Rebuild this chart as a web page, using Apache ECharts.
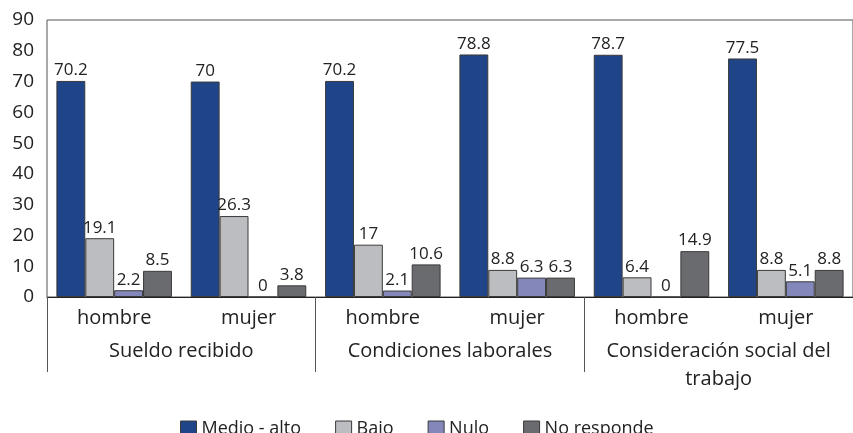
<!DOCTYPE html>
<html>
<head>
<meta charset="utf-8">
<script src="https://cdn.jsdelivr.net/npm/echarts@6/dist/echarts.min.js"></script>
<style>
html, body { margin: 0; padding: 0; background: #fff; }
#chart { width: 853px; height: 433px; }
</style>
</head>
<body>
<div id="chart"></div>
<script>
// categorias
var sexos = ['hombre', 'mujer', 'hombre', 'mujer', 'hombre', 'mujer'];
var temas = ['Sueldo recibido', 'Condiciones laborales', 'Consideración social del\ntrabajo'];
var yTicks = [0, 90, 10];

// valores por serie
var medioAlto = [70.2, 70, 70.2, 78.8, 78.7, 77.5];
var bajo = [19.1, 26.3, 17, 8.8, 6.4, 8.8];
var nulo = [2.2, 0, 2.1, 6.3, 0, 5.1];
var noResponde = [8.5, 3.8, 10.6, 6.3, 14.9, 8.8];

var nombres = ['Medio - alto', 'Bajo', 'Nulo', 'No responde'];
var colores = ['#1f4588', '#bcbdc1', '#8387b9', '#6a6b6f'];
var datos = [medioAlto, bajo, nulo, noResponde];

var fuente = '"Open Sans", sans-serif';

var chart = echarts.init(document.getElementById('chart'));

var series = nombres.map(function (n, i) {
    return {
        name: n,
        type: 'bar',
        data: datos[i],
        barGap: '0%',
        barCategoryGap: '14%',
        itemStyle: { color: colores[i], borderColor: '#3a3a3a', borderWidth: 1 },
        label: {
            show: true,
            position: 'top',
            distance: 2,
            color: '#222',
            fontSize: 17,
            fontFamily: fuente
        }
    };
});

var option = {
    animation: false,
    textStyle: { fontFamily: fuente },
    grid: {
        left: 47, top: 20, right: -10, bottom: 136,
        show: true, borderColor: '#555', borderWidth: 1
    },
    legend: {
        data: nombres,
        left: 175,
        top: 415,
        itemWidth: 16,
        itemHeight: 16,
        itemGap: 34,
        icon: 'rect',
        itemStyle: { borderColor: '#3a3a3a', borderWidth: 1 },
        textStyle: { fontSize: 18, color: '#222', fontFamily: fuente }
    },
    xAxis: [{
        type: 'category',
        data: sexos,
        position: 'bottom',
        axisLine: { lineStyle: { color: '#222', width: 1 } },
        axisTick: { show: false },
        axisLabel: { color: '#222', fontSize: 20, margin: 11, fontFamily: fuente, interval: 0 }
    }, {
        type: 'category',
        data: temas,
        position: 'bottom',
        axisLine: { show: false },
        axisTick: { show: true, interval: 0, length: 75, lineStyle: { color: '#555' } },
        axisLabel: { color: '#222', fontSize: 20, margin: 40, lineHeight: 28, fontFamily: fuente, interval: 0 }
    }],
    yAxis: {
        type: 'value',
        min: yTicks[0],
        max: yTicks[1],
        interval: yTicks[2],
        splitLine: { show: false },
        axisLine: { show: false },
        axisTick: { show: false },
        axisLabel: { color: '#222', fontSize: 19, margin: 13, padding: [4, 0, 0, 0], fontFamily: fuente }
    },
    series: series
};

chart.setOption(option);
</script>
</body>
</html>
